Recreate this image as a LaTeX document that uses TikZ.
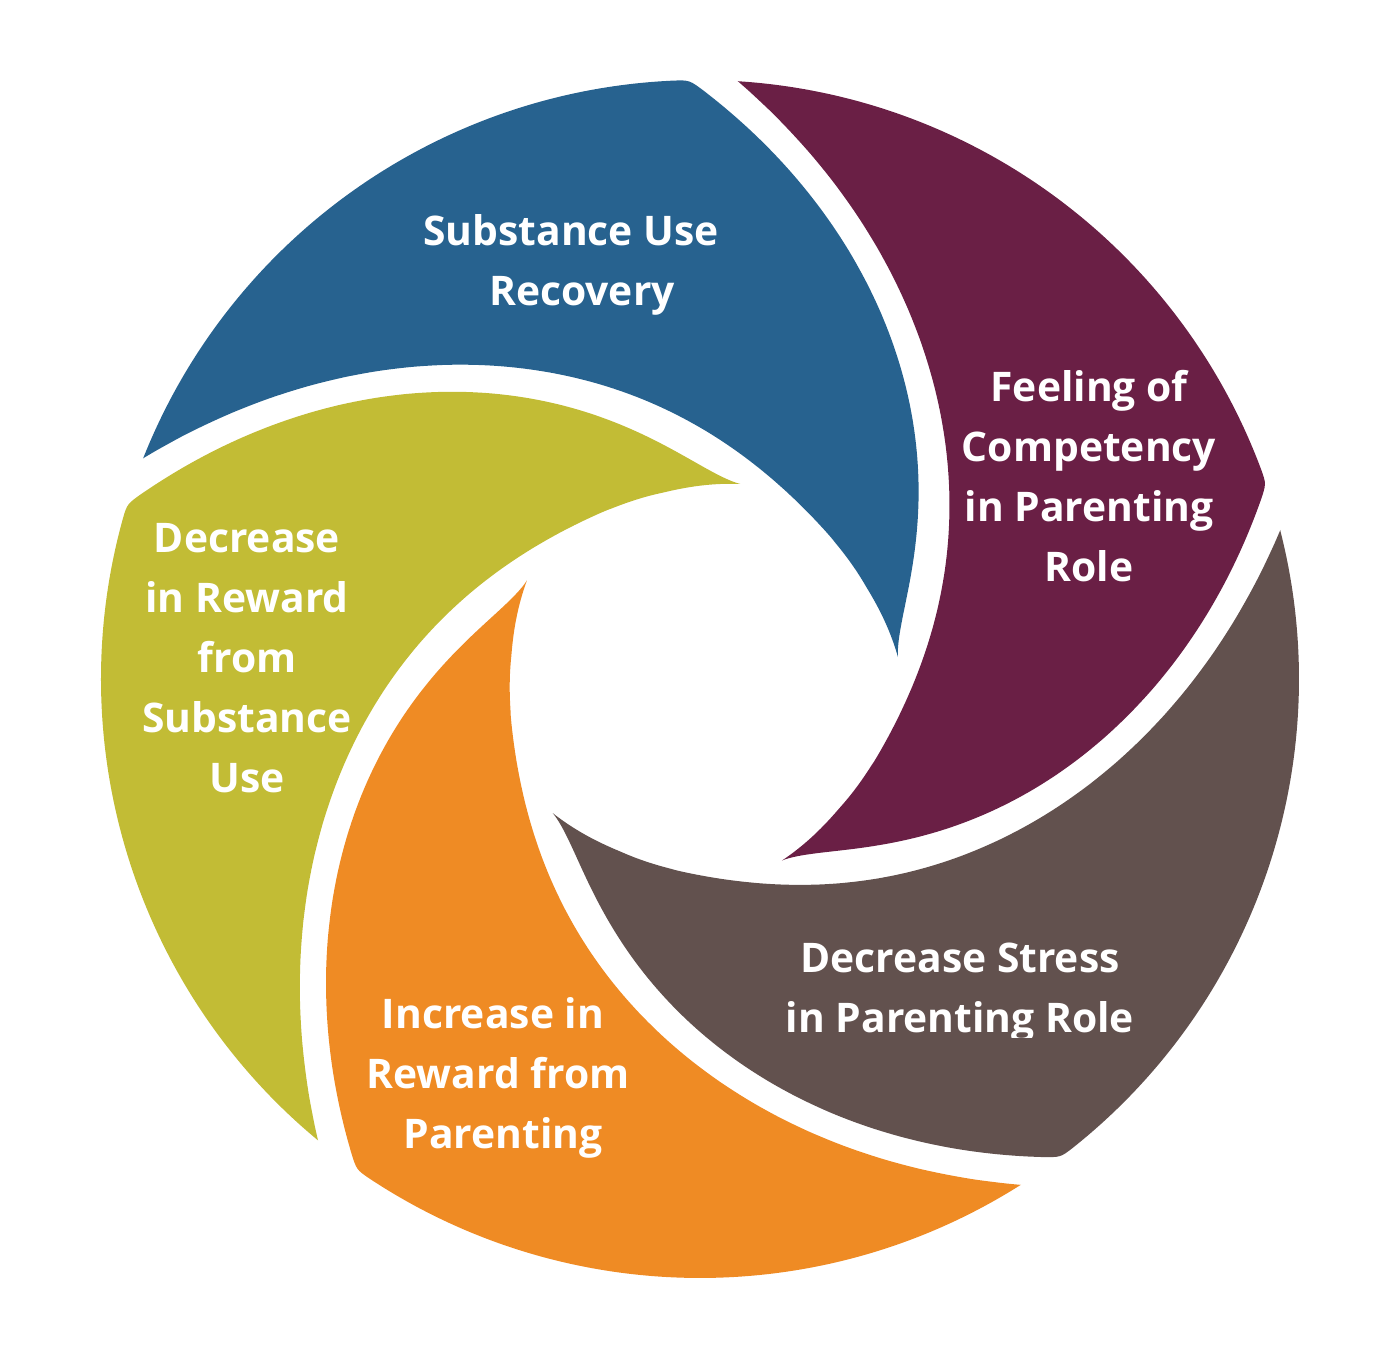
\documentclass[tikz,border=0pt]{standalone}
\usepackage{fontspec}
\newfontfamily\lblfont{Open Sans}
\definecolor{cblue}{HTML}{27628F}
\definecolor{cmaroon}{HTML}{6A1F45}
\definecolor{cbrown}{HTML}{62514E}
\definecolor{corange}{HTML}{EF8B24}
\definecolor{colive}{HTML}{C2BC35}
\begin{document}
\begin{tikzpicture}[x=1pt,y=1pt]
\tikzset{
  lbl/.style={text=white, align=center, anchor=base, inner sep=0pt,
    font=\lblfont\bfseries\fontsize{40.8}{60}\selectfont}
}
\useasboundingbox (-700,-681) rectangle (700,679);
\foreach \k/\col in {0/cblue,1/cmaroon,2/cbrown,3/corange,4/colive} {
  \fill[\col, rotate=-72*\k] (158.4:599) arc[start angle=158.4, end angle=92.5, radius=599]
    .. controls (91:599) .. (89.5:587.2)
    -- plot[domain=89.5:6.35, samples=90, smooth] (\x:{199.2+0.2465*pow(\x-6.3,1.665)})
    -- plot[domain=6.3:29.9, samples=25, smooth] (\x:{190+9.2*pow((30-\x)/23.7,1.5)})
    -- plot[domain=30.1:158.4, samples=110, smooth] (\x:{190+409.2*pow((\x-30)/128.4,2.49)})
    -- cycle;
}
\node[lbl] (t1) at (-129,373) {Substance Use\\\hspace*{22pt}Recovery};
\node[lbl] (t2) at (389,97) {Feeling of\\Competency\\in Parenting\\Role};
\begin{scope}
  \clip (-100,-358) rectangle (600,-200);
  \node[lbl] (t3) at (260,-353) {Decrease Stress\\in Parenting Role};
\end{scope}
\node[lbl] (t4) at (-202,-469) {Increase in\hspace*{10pt}\\Reward from\\\hspace*{10pt}Parenting};
\node[lbl] (t5) at (-453,-113) {Decrease\\in Reward\\from\\Substance\\Use};
\end{tikzpicture}
\end{document}
